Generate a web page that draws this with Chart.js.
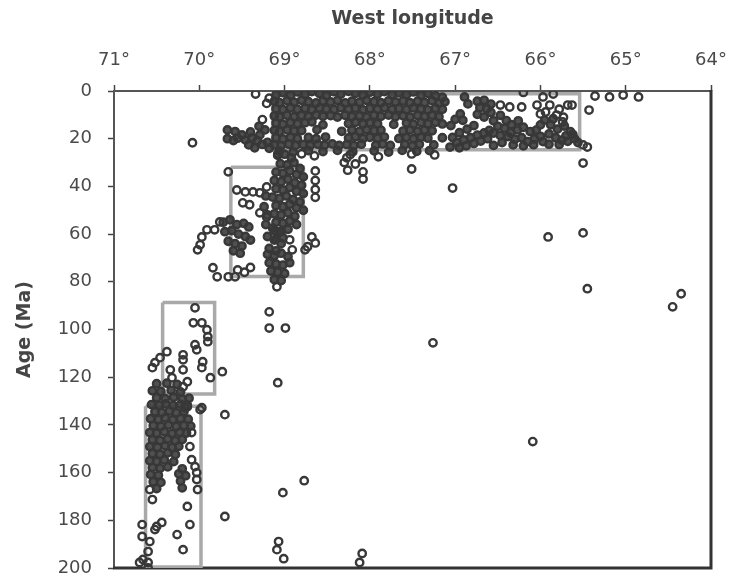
<!DOCTYPE html>
<html>
<head>
<meta charset="utf-8">
<script src="https://cdn.jsdelivr.net/npm/chart.js@4.4.1/dist/chart.umd.min.js"></script>
<style>
  html, body { margin: 0; padding: 0; background: #fff; }
  #wrap { width: 732px; height: 583px; }
</style>
</head>
<body>
<div id="wrap"><canvas id="ageChart" width="732" height="583"></canvas></div>
<script>
// ─── Axis ticks ───────────────────────────────────
const lonTicks = [71, 70, 69, 68, 67, 66, 65, 64];
const ageTicks = [0, 20, 40, 60, 80, 100, 120, 140, 160, 180, 200];

// ─── Grey boxes: [lon east edge... west edge], [age top, age bottom] ──
const boxLon = [[69.14, 65.54], [69.63, 68.78], [70.43, 69.82], [70.63, 69.98]];
const boxAge = [[1.2, 24.6], [32.0, 77.8], [88.7, 127.0], [132.2, 199.6]];

// ─── Samples [west longitude, age Ma] ─────────────
const topCluster = [
  [69.10,1.6],[69.02,0.7],[68.93,1.8],[68.85,0.4],[68.76,1.4],[68.68,0.2],[68.59,1.1],[68.51,1.9],[68.42,0.3],[68.34,1.3],[68.25,0.1],[68.17,1.0],
  [68.08,1.7],[68.00,0.5],[67.91,1.3],[67.83,0.2],[67.74,1.6],[67.66,0.8],[67.57,1.5],[67.49,0.4],[67.40,1.8],[67.32,1.0],[67.23,2.0],[67.15,2.6],
  [69.12,4.3],[69.06,4.9],[68.97,4.1],[68.89,4.7],[68.80,3.9],[68.72,4.5],[68.63,5.0],[68.55,4.2],[68.46,4.6],[68.38,4.0],[68.29,5.0],[68.21,4.3],
  [68.12,4.7],[68.04,3.9],[67.95,4.5],[67.87,4.9],[67.78,4.1],[67.70,4.6],[67.61,4.2],[67.53,4.9],[67.44,4.3],[67.36,4.8],[67.27,4.1],[67.19,5.2],[67.12,4.5],
  [69.10,7.4],[69.02,7.8],[68.93,7.0],[68.85,7.6],[68.76,7.2],[68.68,7.9],[68.59,7.1],[68.51,7.5],[68.42,7.8],[68.34,7.0],[68.25,7.6],[68.17,7.2],
  [68.08,7.9],[68.00,7.3],[67.91,7.6],[67.83,7.0],[67.74,7.7],[67.66,7.3],[67.57,7.8],[67.49,7.1],[67.40,7.5],[67.32,7.9],[67.23,7.2],[67.15,7.7],
  [69.12,10.5],[69.06,10.9],[68.97,10.2],[68.89,10.8],[68.80,10.3],[68.72,10.7],[68.63,10.1],[68.55,10.6],[68.46,10.3],[68.38,10.9],[68.29,10.2],[68.21,10.7],
  [68.12,10.4],[68.04,10.9],[67.95,10.2],[67.87,10.6],[67.78,10.1],[67.70,10.8],[67.61,10.4],[67.53,10.9],[67.44,10.3],[67.36,10.7],[67.27,10.2],[67.19,10.8],
  [69.10,13.4],[69.02,13.9],[68.93,13.2],[68.85,13.7],[68.76,13.3],[68.68,12.9],[68.55,14.2],[68.25,13.6],[68.17,13.1],[68.08,13.8],[68.00,13.3],[67.91,13.7],
  [67.72,14.0],[67.57,13.4],[67.49,13.9],[67.40,13.2],[67.32,13.7],[67.23,13.1],[67.15,13.8],
  [69.12,16.5],[69.06,17.0],[68.97,16.3],[68.89,16.8],[68.80,16.6],[68.62,16.2],[68.33,16.9],[68.21,16.4],[68.12,16.9],[68.04,16.2],[67.95,16.7],[67.87,16.4],
  [67.61,16.8],[67.53,16.3],[67.44,16.9],[67.36,16.4],[67.27,16.7],
  [69.10,19.6],[69.02,20.1],[68.93,19.4],[68.85,19.9],[68.72,19.5],[68.63,20.0],[68.52,19.3],[68.25,19.7],[68.17,19.2],[68.08,19.9],[68.00,19.4],[67.91,19.8],
  [67.83,19.3],[67.66,19.9],[67.57,19.5],[67.49,20.0],[67.40,19.4],[67.32,19.8],[67.15,19.6],
  [69.12,22.6],[69.04,22.9],[68.95,22.3],[68.87,22.8],[68.78,22.4],[68.70,22.9],[68.61,22.3],[68.53,22.7],[68.44,22.2],[68.36,22.8],[68.27,22.4],[68.19,22.9],
  [68.10,22.3],[67.93,22.7],[67.85,22.2],[67.76,22.8],[67.59,22.4],[67.50,22.9],[67.42,22.3],[67.25,22.6],
  [69.06,25.2],[68.90,25.6],[68.72,25.0],[68.55,25.4],[68.38,24.9],[68.20,25.5],[67.95,25.1],[67.78,25.6],[67.62,24.9],[67.45,25.3],[67.30,25.0]
];

const eastCluster = [
  [66.89,2.5],[66.85,5.4],[66.94,9.6],[67.00,11.9],[66.91,12.3],[67.05,14.5],
  [66.74,4.3],[66.66,3.9],[66.71,7.0],[66.63,7.4],[66.74,9.8],[66.66,10.9],[66.58,9.0],[66.58,5.5],
  [66.55,12.5],[66.47,10.2],[66.40,12.4],[66.50,14.8],[66.42,15.6],[66.34,14.1],[66.27,16.3],[66.20,15.2],[66.12,17.0],[66.05,16.4],
  [66.55,17.6],[66.47,18.7],[66.38,19.1],[66.30,20.2],[66.22,19.6],[66.15,21.2],[66.07,20.1],[66.00,19.0],[66.45,21.6],[66.32,22.6],
  [66.20,23.0],[66.08,22.5],[66.26,12.5],[66.35,17.5],
  [65.95,12.2],[65.88,14.2],[65.80,16.0],[65.72,14.7],[65.65,17.0],[65.90,18.0],[65.82,19.6],[65.75,20.6],[65.68,21.1],[65.60,20.0],
  [65.56,21.6],[65.97,21.2],[65.90,22.3],[65.62,18.2],[65.85,11.6],[66.00,14.2],[65.70,18.8],[65.78,22.4],
  [67.06,23.5],[66.98,21.6],[66.90,20.5],[66.82,19.6],[66.74,18.5],[66.66,17.6],[66.60,16.5],[66.95,23.8],[66.87,23.0],[66.78,22.0],
  [66.70,21.0],[66.62,20.0],[66.55,22.8],[67.03,19.5],[66.95,17.5],[66.86,16.0],[66.78,14.5]
];

const westBand = [
  [69.67,16.3],[69.58,17.0],[69.50,18.4],[69.67,20.0],[69.40,17.2],[69.42,22.6],[69.35,23.8],[69.29,18.4],[69.23,16.3],
  [69.55,19.8],[69.46,20.5],[69.32,20.8],[69.20,21.5],[69.18,24.0],[69.60,20.8],[69.38,19.6],[69.26,22.4],[69.30,14.8]
];

const midCluster = [
  [69.08,27.0],[69.00,26.5],[68.92,28.0],[69.05,30.5],[68.97,31.0],[68.89,30.0],[68.82,32.5],
  [69.10,34.0],[69.02,34.5],[68.94,33.5],[68.86,35.0],[68.78,36.0],
  [69.12,37.5],[69.04,38.0],[68.96,37.0],[68.88,38.5],[68.80,39.5],
  [69.10,41.0],[69.02,41.5],[68.94,40.5],[68.86,42.0],[68.78,43.0],
  [69.14,44.5],[69.06,45.0],[68.98,44.0],[68.90,45.5],[68.82,46.5],
  [69.10,48.0],[69.02,48.5],[68.94,47.5],[68.86,49.0],[68.78,50.0],
  [69.12,51.5],[69.04,52.0],[68.96,51.0],[68.88,52.5],
  [69.10,55.0],[69.02,55.5],[68.94,54.5],[68.86,56.0],
  [69.12,58.5],[69.04,59.0],[68.96,58.0],
  [69.10,62.0],[69.02,61.5],
  [69.22,44.0],[69.24,48.5],[69.20,52.0],
  [69.72,55.0],[69.64,54.0],[69.56,56.0],[69.48,55.5],[69.42,57.0],[69.70,59.0],[69.62,58.5],[69.54,60.0],[69.46,61.0],[69.40,62.5],
  [69.66,63.0],[69.58,64.0],[69.50,65.0],[69.60,67.0],[69.52,68.0],
  [69.22,56.0],[69.14,57.5],[69.06,59.0],[69.20,61.0],[69.12,62.5],[69.04,64.0],[69.18,66.0],[69.10,67.0],
  [69.20,68.5],[69.12,69.0],[69.04,68.0],[68.96,69.5],[69.18,72.0],[69.10,72.5],[69.02,73.0],[68.94,72.0],[69.16,75.5],[69.08,76.0],
  [69.00,76.5],[69.12,79.0],[69.04,79.5]
];

const lowCluster = [
  [70.50,122.7],[70.38,122.5],[70.26,123.0],
  [70.55,125.7],[70.45,126.0],[70.33,125.5],[70.22,126.2],
  [70.50,128.6],[70.40,129.0],[70.30,128.4],[70.20,129.2],[70.12,128.8],
  [70.56,131.5],[70.47,131.8],[70.39,131.2],[70.31,131.9],[70.22,131.4],[70.14,131.7],
  [70.52,134.5],[70.44,134.8],[70.35,134.2],[70.27,134.9],[70.18,134.4],
  [70.57,137.4],[70.48,137.7],[70.40,137.1],[70.31,137.8],[70.22,137.3],[70.13,137.6],
  [70.54,140.3],[70.45,140.6],[70.36,140.0],[70.27,140.7],[70.18,140.2],[70.10,140.5],
  [70.58,143.2],[70.50,143.5],[70.41,142.9],[70.32,143.6],[70.23,143.1],[70.15,143.4],
  [70.55,146.2],[70.46,146.5],[70.37,145.9],[70.28,146.6],[70.20,146.1],
  [70.58,149.1],[70.49,149.4],[70.40,148.8],[70.32,149.5],[70.24,149.0],
  [70.55,152.0],[70.46,152.3],[70.37,151.7],[70.28,152.4],
  [70.58,155.0],[70.50,155.3],[70.41,154.7],[70.30,155.4],
  [70.55,157.9],[70.46,158.2],[70.37,157.6],[70.20,158.4],
  [70.57,160.8],[70.48,161.1],[70.24,160.5],[70.16,161.3],
  [70.54,163.8],[70.45,164.1],[70.22,163.5],
  [70.50,166.7],[70.20,166.4]
];

// loose samples round the clusters
const looseSamples = [
  [69.34,1.3],[69.18,3.0],[69.21,5.2],[69.26,12.0],
  [69.08,26.4],[68.80,26.3],[68.65,27.2],[68.23,26.6],[68.08,28.5],[67.90,27.6],[67.51,26.4],[67.51,32.7],[67.24,26.8],[68.08,33.9],[68.08,36.9],
  [68.27,28.0],[68.17,30.6],[68.30,30.0],[68.26,33.2],[67.03,40.7],
  [66.47,5.9],[66.36,6.7],[66.22,6.7],[66.20,0.6],[65.97,2.5],[65.85,1.3],[66.04,5.9],[65.89,5.9],[65.68,5.9],[66.00,9.6],[65.81,10.1],
  [65.74,13.0],[65.94,8.8],[65.78,7.6],
  [68.64,33.5],[68.64,37.5],[68.64,41.3],[68.64,44.6],
  [69.66,33.9],[69.56,41.5],[69.46,42.3],[69.37,42.3],[69.29,42.7],[69.21,40.2],[69.49,46.9],[69.41,47.7],[69.29,51.1],[69.21,52.8],
  [69.91,58.2],[69.82,58.2],[69.97,61.2],[69.99,64.5],[70.02,66.6],[69.76,54.9],
  [68.94,62.4],[68.91,66.6],[68.76,66.6],[68.68,61.2],[68.64,63.7],[68.73,65.3],
  [69.84,74.1],[69.79,77.9],[69.66,77.9],[69.58,77.9],[69.55,75.0],[69.47,76.0],[69.40,74.0],
  [70.05,90.9],[70.07,97.2],[69.97,97.2],[69.91,100.1],[69.90,103.0],[69.90,105.1],[70.05,106.4],[70.03,108.5],[69.96,113.5],[69.97,116.0],[69.87,120.2],
  [70.19,110.6],[70.19,112.7],[70.19,116.9],
  [70.38,109.3],[70.46,111.8],[70.52,113.9],[70.55,116.0],
  [70.34,116.9],[70.32,120.2],[70.14,121.9],[70.19,124.0],
  [69.99,133.6],[70.14,132.4],[70.09,143.2],[70.11,149.1],[70.09,154.6],[70.05,157.5],[70.03,160.0],[70.03,162.9],[70.02,167.1],[69.97,132.8],[70.17,132.8],
  [70.58,167.1],[70.55,171.3],[70.14,174.2],[70.11,181.8],[70.26,186.0],[70.19,192.3],
  [70.67,181.8],[70.67,186.8],[70.50,182.6],[70.44,180.9],[70.58,188.9],[70.60,193.1],[70.70,197.7],[70.60,197.7],[70.60,200.0],[70.66,196.4],[70.52,183.9]
];

const outliers = [
  [70.08,21.7],[69.18,92.6],[69.18,99.4],[68.99,99.4],[69.08,122.3],[69.02,168.4],[68.77,163.4],[69.07,188.9],[69.09,192.3],[69.01,196.1],
  [68.09,193.9],[68.12,197.7],[67.26,105.6],[66.09,147.0],[65.45,82.9],[64.35,85.0],[64.45,90.5],[65.50,59.5],[65.91,61.2],[65.50,30.2],
  [65.36,2.1],[65.19,2.5],[65.03,1.7],[64.85,2.5],[65.63,5.9],[65.43,8.0],[65.73,11.0],[65.50,22.6],[65.45,23.5],[69.09,82.1],
  [69.70,135.7],[69.70,178.4],[69.73,117.7]
];

// ─── Build datasets ───────────────────────────────
const toXY = arr => arr.map(p => ({ x: p[0], y: p[1] }));

const pointStyle = (arr, fill) => ({
  type: 'scatter',
  data: toXY(arr),
  pointRadius: 3.7,
  pointBorderWidth: 2.4,
  pointBorderColor: '#383838',
  pointBackgroundColor: fill,
  order: 0,
});

const denseFill = 'rgba(56,56,56,0.88)';
const sampleSets = [
  ...[topCluster, eastCluster, westBand, midCluster, lowCluster].map(arr => pointStyle(arr, denseFill)),
  pointStyle(looseSamples, 'rgba(255,255,255,0)'),
  pointStyle(outliers, 'rgba(255,255,255,0)'),
];

const boxSets = boxLon.map((lon, i) => ({
  type: 'line',
  data: [
    { x: lon[0], y: boxAge[i][0] }, { x: lon[1], y: boxAge[i][0] },
    { x: lon[1], y: boxAge[i][1] }, { x: lon[0], y: boxAge[i][1] },
    { x: lon[0], y: boxAge[i][0] },
  ],
  borderColor: '#a9a9a9',
  borderWidth: 3.5,
  borderJoinStyle: 'miter',
  pointRadius: 0,
  fill: false,
  tension: 0,
  order: 5,
}));

// ─── Frame round the plot area ────────────────────
const framePlugin = {
  id: 'frame',
  beforeDatasetsDraw(chart) {
    const { ctx, chartArea: a } = chart;
    ctx.save();
    ctx.strokeStyle = '#555';
    ctx.lineWidth = 2;
    ctx.beginPath();
    ctx.moveTo(a.left, a.bottom);
    ctx.lineTo(a.left, a.top);
    ctx.lineTo(a.right, a.top);
    ctx.stroke();
    ctx.strokeStyle = '#333';
    ctx.lineWidth = 3;
    ctx.beginPath();
    ctx.moveTo(a.right, a.top - 1);
    ctx.lineTo(a.right, a.bottom);
    ctx.lineTo(a.left - 1, a.bottom);
    ctx.stroke();
    ctx.restore();
  },
};

const tickFont = { family: 'DejaVu Sans', size: 18 };
const titleFont = { family: 'DejaVu Sans', size: 19, weight: 'bold' };
const tickGrid = { drawOnChartArea: false, drawTicks: true, tickLength: 6, tickColor: '#444', tickWidth: 1.5 };

new Chart(document.getElementById('ageChart'), {
  type: 'scatter',
  data: { datasets: [...sampleSets, ...boxSets] },
  options: {
    responsive: false,
    animation: false,
    devicePixelRatio: 1,
    events: [],
    layout: { padding: { top: 0, left: 0, right: 21, bottom: 15 } },
    plugins: { legend: { display: false }, tooltip: { enabled: false } },
    scales: {
      x: {
        type: 'linear',
        position: 'top',
        reverse: true,
        min: 64,
        max: 71,
        afterBuildTicks: s => { s.ticks = lonTicks.map(v => ({ value: v })); },
        afterFit: s => { s.height = 91; s.paddingLeft = 0; s.paddingRight = 0; },
        ticks: { callback: v => v + '°', color: '#4a4a4a', font: tickFont, padding: 14, maxRotation: 0, autoSkip: false },
        grid: tickGrid,
        border: { display: false },
        title: { display: true, text: 'West longitude', color: '#454545', font: titleFont, padding: { top: 8, bottom: 0 } },
      },
      y: {
        type: 'linear',
        position: 'left',
        reverse: true,
        min: 0,
        max: 200,
        afterBuildTicks: s => { s.ticks = ageTicks.map(v => ({ value: v })); },
        afterFit: s => { s.width = 114; s.paddingTop = 0; s.paddingBottom = 0; },
        ticks: { color: '#4a4a4a', font: tickFont, padding: 16, autoSkip: false },
        grid: tickGrid,
        border: { display: false },
        title: { display: true, text: 'Age (Ma)', color: '#454545', font: titleFont, padding: { top: 14, bottom: 0 } },
      },
    },
  },
  plugins: [framePlugin],
});
</script>
</body>
</html>
